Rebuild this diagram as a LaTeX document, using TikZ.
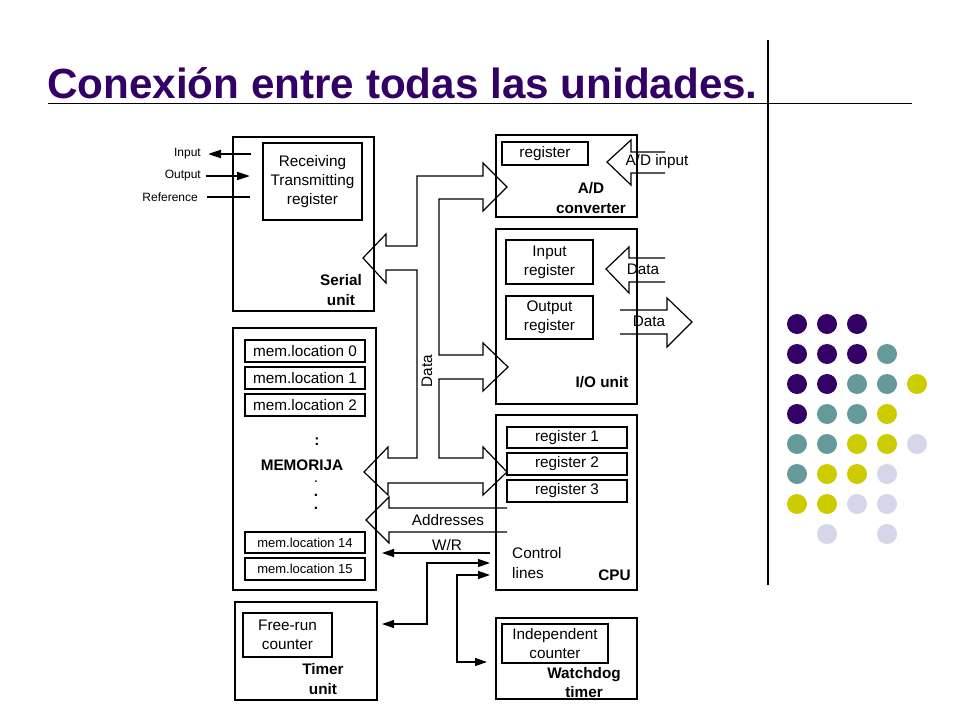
\documentclass[tikz,border=0pt]{standalone}
\usepackage{fontspec}
\setmainfont{Liberation Sans}
\usetikzlibrary{arrows.meta}
\definecolor{titlepurple}{RGB}{51,0,102}
\definecolor{dotpurple}{RGB}{51,0,102}
\definecolor{dotteal}{RGB}{102,153,153}
\definecolor{dotyellow}{RGB}{204,204,0}
\definecolor{dotlilac}{RGB}{214,214,234}
\begin{document}
\begin{tikzpicture}[x=1pt,y=-1pt,>={Triangle[length=12pt,width=8pt]},
unitbox/.style={shape=rectangle,draw=black,line width=2.6pt,inner sep=0pt},
regbox/.style={shape=rectangle,draw=black,line width=1.1pt,inner sep=0pt,align=center,font=\fontsize{15.3}{19.3}\selectfont},
smallreg/.style={regbox,font=\fontsize{13}{16}\selectfont},
unitname/.style={align=center,inner sep=0pt,font=\bfseries\fontsize{15.3}{19.3}\selectfont},
plain/.style={align=center,inner sep=0pt,font=\fontsize{15.3}{19.3}\selectfont},
pinlbl/.style={anchor=east,inner sep=0pt,font=\fontsize{12}{14}\selectfont},
pinline/.style={line width=2pt},
bus/.style={draw=black,line width=1.2pt,line join=miter},
ctrl/.style={line width=1.2pt}]
\useasboundingbox (0,0) rectangle (960,720);
\fill[white] (0,0) rectangle (960,720);
\node[anchor=base west,inner sep=0pt,font=\bfseries\fontsize{42.2}{48}\selectfont,text=titlepurple] (T) at (47,98) {Conexión entre todas las unidades.};
\draw[line width=1.3pt] (48,103.5) -- (912,103.5);
\draw[line width=1.3pt] (768,40) -- (768,585);
\node[unitbox,minimum width=141,minimum height=174] (SU) at (303.5,224) {};
\node[regbox,minimum width=99,minimum height=77] (RT) at (312.5,181.5) {Receiving\\Transmitting\\register};
\node[unitname] (SUn) at (341,290) {Serial\\unit};
\node[unitbox,minimum width=141,minimum height=82] (AD) at (566.5,176) {};
\node[regbox,minimum width=86,minimum height=23] (ADr) at (545,153.5) {register};
\node[unitname] (ADn) at (591,198) {A/D\\converter};
\node[unitbox,minimum width=141,minimum height=175] (IO) at (566.5,316.5) {};
\node[regbox,minimum width=87,minimum height=44] (IOi) at (549.5,262) {Input\\register};
\node[regbox,minimum width=87,minimum height=43] (IOo) at (549.5,317.5) {Output\\register};
\node[unitname] (IOn) at (602,382) {I/O unit};
\node[unitbox,minimum width=141,minimum height=175] (CPU) at (566.5,502.5) {};
\node[regbox,minimum width=120,minimum height=21] (R1) at (567,437.5) {register 1};
\node[regbox,minimum width=120,minimum height=22] (R2) at (567,464) {register 2};
\node[regbox,minimum width=120,minimum height=22] (R3) at (567,491) {register 3};
\node[unitname] (CPUn) at (614.5,575) {CPU};
\node[plain,anchor=west,align=left] (CL) at (512,563) {Control\\lines};
\node[unitbox,minimum width=143,minimum height=262] (MEM) at (304.5,459) {};
\node[regbox,minimum width=120,minimum height=22] (M0) at (305,351) {mem.location 0};
\node[regbox,minimum width=120,minimum height=22] (M1) at (305,378) {mem.location 1};
\node[regbox,minimum width=120,minimum height=22] (M2) at (305,405) {mem.location 2};
\node[smallreg,minimum width=120,minimum height=21] (M14) at (305,542.5) {mem.location 14};
\node[smallreg,minimum width=120,minimum height=22] (M15) at (305,569) {mem.location 15};
\node[unitname] (MC) at (317,442) {:};
\node[unitname] (MEMn) at (302,465) {MEMORIJA};
\node[plain] (MD1) at (316,482) {.};
\node[unitname] (MD2) at (316,495) {.};
\node[unitname] (MD3) at (316,508) {.};
\node[unitbox,minimum width=142,minimum height=98] (TU) at (306,651) {};
\node[regbox,minimum width=89,minimum height=44] (FR) at (287.5,635) {Free-run\\counter};
\node[unitname] (TUn) at (323,679) {Timer\\unit};
\node[unitbox,minimum width=141,minimum height=81] (WT) at (566.5,658.5) {};
\node[regbox,minimum width=106,minimum height=39] (IC) at (555,643.5) {Independent\\counter};
\node[unitname] (WTn) at (584,682.5) {Watchdog\\timer};
\node[pinlbl] (PI) at (201,154) {Input};
\node[pinlbl] (PO) at (201,176) {Output};
\node[pinlbl] (PR) at (198,197) {Reference};
\coordinate (pi1) at (251,154);
\coordinate (pi2) at (208,154);
\coordinate (po1) at (206,176);
\coordinate (po2) at (250,176);
\coordinate (pr1) at (207,197);
\coordinate (pr2) at (250,197);
\draw[pinline,->,>={Triangle[length=13pt,width=8pt]}] (pi1) -- (pi2);
\draw[pinline,->,>={Triangle[length=13pt,width=8pt]}] (po1) -- (po2);
\draw[pinline] (pr1) -- (pr2);
\draw[bus] (665,152) -- (631,152) -- (631,140) -- (607,162) -- (631,185) -- (631,173) -- (665,173);
\node[plain] (ADin) at (657,162) {A/D input};
\draw[bus] (665,258) -- (629,258) -- (629,247) -- (606,269) -- (629,293) -- (629,282) -- (665,282);
\node[plain] (DIn) at (643,269) {Data};
\draw[bus] (620,310) -- (667,310) -- (667,298) -- (692,322) -- (667,347) -- (667,334) -- (620,334);
\node[plain] (DOut) at (649,321) {Data};
\draw[bus] (386,246) -- (417,246) -- (417,176) -- (483,176) -- (483,163) -- (507,187) -- (483,211) -- (483,199) -- (439,199) -- (439,355) -- (483,355) -- (483,343) -- (508,367) -- (483,391) -- (483,379) -- (439,379) -- (439,458) -- (483,458) -- (483,447) -- (507,472) -- (483,495) -- (483,483) -- (388,483) -- (388,495) -- (364,472) -- (388,447) -- (388,458) -- (417,458) -- (417,270) -- (386,270) -- (386,283) -- (363,258) -- (386,234) -- cycle;
\node[plain,rotate=90] (DB) at (427,371) {Data};
\draw[bus] (507,508) -- (389,508) -- (389,497) -- (366,520) -- (389,543) -- (389,532) -- (507,532);
\node[plain] (AB) at (448,520) {Addresses};
\coordinate (wr1) at (490,553);
\coordinate (wr2) at (382,553);
\coordinate (ct1) at (490,563);
\coordinate (tm1) at (382,624);
\coordinate (ct2) at (490,575);
\coordinate (wd1) at (487,662);
\draw[ctrl,->] (wr1) -- (wr2);
\node[plain] (WR) at (447,545) {W/R};
\draw[ctrl,<->] (ct1) -- (427,563) |- (tm1);
\draw[ctrl,<->] (ct2) -- (457,575) |- (wd1);
\fill[dotpurple] (797,324) circle (10pt);
\fill[dotpurple] (827,324) circle (10pt);
\fill[dotpurple] (857,324) circle (10pt);
\fill[dotpurple] (797,354) circle (10pt);
\fill[dotpurple] (827,354) circle (10pt);
\fill[dotpurple] (857,354) circle (10pt);
\fill[dotteal] (887,354) circle (10pt);
\fill[dotpurple] (797,384) circle (10pt);
\fill[dotpurple] (827,384) circle (10pt);
\fill[dotteal] (857,384) circle (10pt);
\fill[dotteal] (887,384) circle (10pt);
\fill[dotyellow] (917,384) circle (10pt);
\fill[dotpurple] (797,414) circle (10pt);
\fill[dotteal] (827,414) circle (10pt);
\fill[dotteal] (857,414) circle (10pt);
\fill[dotyellow] (887,414) circle (10pt);
\fill[dotteal] (797,444) circle (10pt);
\fill[dotteal] (827,444) circle (10pt);
\fill[dotyellow] (857,444) circle (10pt);
\fill[dotyellow] (887,444) circle (10pt);
\fill[dotlilac] (917,444) circle (10pt);
\fill[dotteal] (797,474) circle (10pt);
\fill[dotyellow] (827,474) circle (10pt);
\fill[dotyellow] (857,474) circle (10pt);
\fill[dotlilac] (887,474) circle (10pt);
\fill[dotyellow] (797,504) circle (10pt);
\fill[dotyellow] (827,504) circle (10pt);
\fill[dotlilac] (857,504) circle (10pt);
\fill[dotlilac] (887,504) circle (10pt);
\fill[dotlilac] (827,534) circle (10pt);
\fill[dotlilac] (887,534) circle (10pt);
\end{tikzpicture}
\end{document}
